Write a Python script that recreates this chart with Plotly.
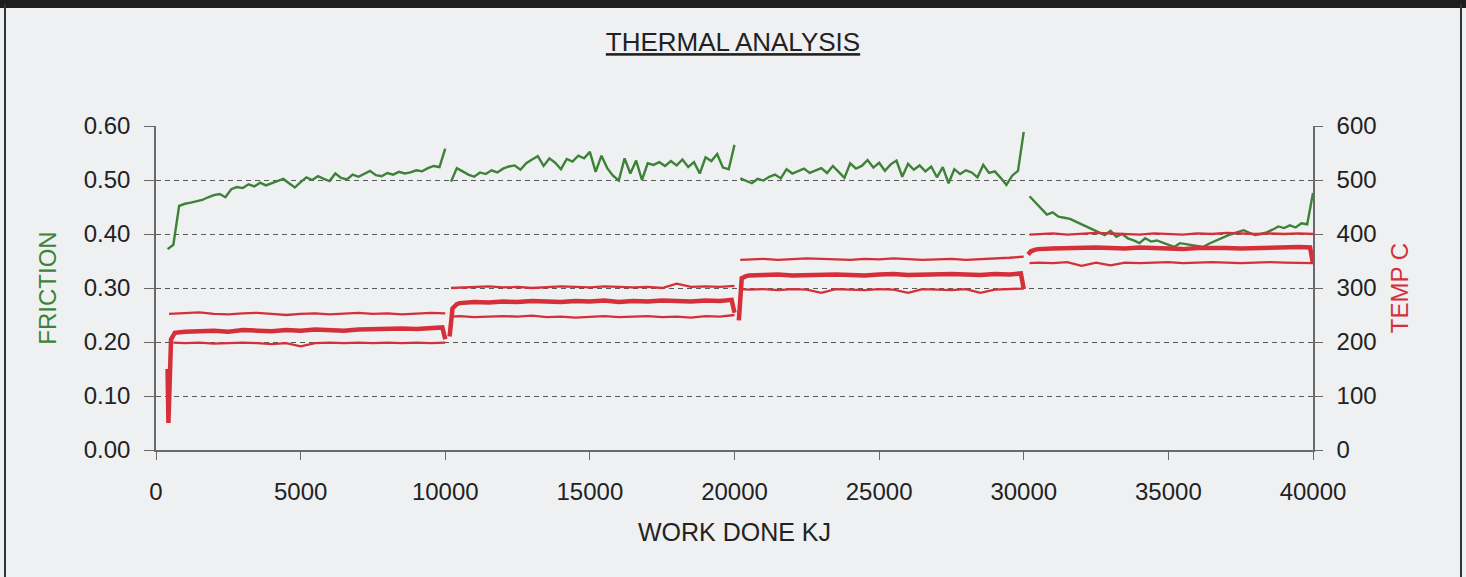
import plotly.graph_objects as go

# ---------------- data ----------------
# Friction (green), sampled every 200 kJ in each of four test blocks
FRICTION_X1 = list(range(400, 10001, 200))
FRICTION_1 = [0.372, 0.380, 0.452, 0.456, 0.458, 0.460, 0.463, 0.468, 0.472, 0.474,
              0.468, 0.483, 0.487, 0.485, 0.492, 0.488, 0.495, 0.490, 0.494, 0.498,
              0.502, 0.494, 0.486, 0.496, 0.505, 0.500, 0.507, 0.502, 0.498, 0.512,
              0.504, 0.501, 0.510, 0.506, 0.512, 0.517, 0.509, 0.507, 0.513, 0.510,
              0.515, 0.512, 0.514, 0.518, 0.516, 0.522, 0.526, 0.524, 0.558]
FRICTION_X2 = list(range(10200, 20001, 200))
FRICTION_2 = [0.497, 0.522, 0.516, 0.510, 0.506, 0.514, 0.511, 0.518, 0.514, 0.521,
              0.525, 0.527, 0.519, 0.531, 0.538, 0.544, 0.526, 0.540, 0.532, 0.520,
              0.539, 0.534, 0.545, 0.540, 0.552, 0.515, 0.545, 0.522, 0.508, 0.499,
              0.540, 0.512, 0.536, 0.500, 0.531, 0.528, 0.533, 0.526, 0.535, 0.527,
              0.538, 0.524, 0.533, 0.512, 0.542, 0.535, 0.548, 0.523, 0.520, 0.565]
FRICTION_X3 = list(range(20200, 30001, 200))
FRICTION_3 = [0.503, 0.498, 0.494, 0.502, 0.499, 0.506, 0.510, 0.503, 0.520, 0.512,
              0.516, 0.521, 0.513, 0.518, 0.522, 0.513, 0.526, 0.515, 0.504, 0.531,
              0.521, 0.526, 0.537, 0.523, 0.532, 0.517, 0.529, 0.536, 0.506, 0.530,
              0.519, 0.527, 0.516, 0.525, 0.505, 0.524, 0.494, 0.520, 0.511, 0.518,
              0.514, 0.505, 0.528, 0.513, 0.516, 0.504, 0.491, 0.508, 0.517, 0.589]
FRICTION_X4 = list(range(30200, 40001, 200))
FRICTION_4 = [0.470, 0.458, 0.447, 0.436, 0.440, 0.432, 0.430, 0.428, 0.423, 0.418,
              0.412, 0.408, 0.402, 0.398, 0.406, 0.395, 0.400, 0.392, 0.388, 0.383,
              0.392, 0.386, 0.388, 0.384, 0.380, 0.376, 0.383, 0.381, 0.380, 0.377,
              0.376, 0.382, 0.387, 0.392, 0.396, 0.400, 0.404, 0.407, 0.402, 0.398,
              0.400, 0.403, 0.408, 0.414, 0.411, 0.416, 0.412, 0.420, 0.418, 0.476]

# Temperatures (red): upper, mean (thick) and lower traces, every 500 kJ
G1 = list(range(1000, 9501, 500))
G2 = list(range(10500, 19501, 500))
G3 = list(range(20500, 29501, 500))
G4 = list(range(30500, 39501, 500))

UPPER_X1 = [450] + G1 + [10000]
UPPER_1 = [252, 253, 255, 252, 251, 253, 254, 252, 250, 252, 253, 251, 252, 254, 252, 253, 251, 252, 254, 253]
MID_X1 = [400, 430, 520, 650] + G1 + [9900, 10000]
MID_1 = [150, 50, 205, 217, 219, 220, 221, 219, 222, 221, 220, 222, 221, 223, 222, 221, 223, 224, 223, 225, 224, 226, 227, 205]
LOWER_X1 = [600] + G1 + [10000]
LOWER_1 = [199, 198, 199, 197, 198, 199, 198, 196, 198, 192, 198, 199, 198, 199, 198, 199, 198, 199, 198, 199]

UPPER_X2 = [10200] + G2 + [20000]
UPPER_2 = [300, 301, 302, 303, 301, 302, 300, 302, 303, 302, 301, 303, 302, 301, 302, 300, 308, 302, 303, 302, 304]
MID_X2 = [10150, 10250, 10400] + G2 + [19900, 20000]
MID_2 = [210, 262, 270, 272, 274, 273, 275, 274, 276, 275, 274, 276, 275, 277, 274, 276, 275, 277, 276, 275, 277, 276, 278, 254]
LOWER_X2 = [10200] + G2 + [20000]
LOWER_2 = [247, 248, 246, 247, 248, 247, 249, 246, 247, 245, 247, 248, 246, 247, 248, 246, 247, 245, 248, 247, 250]

UPPER_X3 = [20200] + G3 + [30000]
UPPER_3 = [352, 353, 354, 352, 353, 355, 354, 353, 352, 354, 353, 355, 354, 352, 353, 354, 352, 353, 354, 356, 358]
MID_X3 = [20150, 20250, 20400] + G3 + [29900, 30000]
MID_3 = [240, 318, 322, 323, 324, 325, 323, 324, 326, 325, 324, 323, 325, 326, 324, 325, 324, 326, 325, 324, 326, 325, 327, 298]
LOWER_X3 = [20200] + G3 + [30000]
LOWER_3 = [298, 297, 298, 296, 298, 297, 291, 298, 297, 296, 298, 297, 291, 298, 297, 296, 298, 291, 297, 298, 299]

UPPER_X4 = [30200] + G4 + [40000]
UPPER_4 = [399, 400, 401, 399, 400, 402, 401, 400, 399, 401, 400, 399, 401, 400, 402, 401, 400, 401, 400, 401, 400]
MID_X4 = [30150, 30250, 30400] + G4 + [39900, 40000]
MID_4 = [362, 368, 371, 372, 373, 374, 373, 375, 374, 373, 375, 374, 373, 372, 374, 375, 374, 373, 374, 375, 374, 376, 375, 345]
LOWER_X4 = [30200] + G4 + [40000]
LOWER_4 = [346, 347, 346, 348, 341, 347, 342, 347, 346, 347, 348, 346, 347, 348, 347, 346, 347, 348, 347, 346, 346]

X_TICKS = list(range(0, 40001, 5000))
TITLE = "THERMAL ANALYSIS"
X_TITLE = "WORK DONE KJ"
Y1_TITLE = "FRICTION"
Y2_TITLE = "TEMP C"

GREEN = "#3d8236"
RED = "#d5303a"
FONT = "Liberation Sans, Arial, sans-serif"
TEXT = "#222222"
AXIS = "#6a6a6a"


def join(blocks):
    xs, ys = [], []
    for bx, by in blocks:
        if xs:
            xs.append(None)
            ys.append(None)
        xs.extend(bx)
        ys.extend(by)
    return xs, ys


fig = go.Figure()

for name, blocks, width in [
    ("upper", [(UPPER_X1, UPPER_1), (UPPER_X2, UPPER_2), (UPPER_X3, UPPER_3), (UPPER_X4, UPPER_4)], 2.3),
    ("lower", [(LOWER_X1, LOWER_1), (LOWER_X2, LOWER_2), (LOWER_X3, LOWER_3), (LOWER_X4, LOWER_4)], 2.3),
    ("mean", [(MID_X1, MID_1), (MID_X2, MID_2), (MID_X3, MID_3), (MID_X4, MID_4)], 4.5),
]:
    xs, ys = join(blocks)
    fig.add_trace(go.Scatter(x=xs, y=ys, mode="lines", yaxis="y2", name=name,
                             line=dict(color=RED, width=width), connectgaps=False,
                             showlegend=False))

fx, fy = join([(FRICTION_X1, FRICTION_1), (FRICTION_X2, FRICTION_2),
               (FRICTION_X3, FRICTION_3), (FRICTION_X4, FRICTION_4)])
fig.add_trace(go.Scatter(x=fx, y=fy, mode="lines", name="friction",
                         line=dict(color=GREEN, width=2.4), connectgaps=False,
                         showlegend=False))

# page frame (paper coordinates relative to plot area)
L, R, T, B = 156, 1313, 126, 450
W, H = R - L, B - T


def px(x):
    return (x - L) / W


def py(y):
    return (B - y) / H


shapes = [
    dict(type="rect", xref="paper", yref="paper", x0=px(-5), x1=px(1475), y0=py(-2), y1=py(8),
         fillcolor="#1e1e1e", line=dict(width=0), layer="above"),
    dict(type="line", xref="paper", yref="paper", x0=px(5), x1=px(5), y0=py(4), y1=py(590),
         line=dict(color="#333333", width=2)),
    dict(type="line", xref="paper", yref="paper", x0=px(1461), x1=px(1461), y0=py(4), y1=py(590),
         line=dict(color="#333333", width=2)),
]

fig.update_layout(
    width=1466, height=577,
    margin=dict(l=L, r=1466 - R, t=T, b=577 - B),
    paper_bgcolor="#eef0f2",
    plot_bgcolor="rgba(0,0,0,0)",
    font=dict(family=FONT, color=TEXT, size=24),
    title=dict(text="<u>" + TITLE + "</u>", x=0.5, xanchor="center", y=1 - 42 / 577, yanchor="middle",
               font=dict(size=26, family=FONT, color=TEXT)),
    shapes=shapes,
    xaxis=dict(range=[0, 40000], tickvals=X_TICKS, ticktext=[str(v) for v in X_TICKS],
               showgrid=False, zeroline=False, showline=True, linecolor=AXIS, linewidth=1.5,
               ticks="outside", ticklen=8, tickcolor=AXIS, tickwidth=1, automargin=False,
               ticklabelstandoff=11,
               title=dict(text=X_TITLE, standoff=20, font=dict(size=25)),
               tickfont=dict(size=24)),
    yaxis=dict(range=[0, 0.6], dtick=0.1, tickformat=".2f",
               showgrid=True, gridcolor="#5a5a5a", gridwidth=1, griddash="5px,4px",
               zeroline=False, showline=True, linecolor=AXIS, linewidth=1.5,
               ticks="outside", ticklen=10, tickcolor=AXIS, automargin=False,
               ticklabelstandoff=9,
               title=dict(text=Y1_TITLE, standoff=20, font=dict(size=24, color=GREEN)),
               tickfont=dict(size=24)),
    yaxis2=dict(range=[0, 600], dtick=100, overlaying="y", side="right",
                showgrid=False, zeroline=False, showline=True, linecolor=AXIS, linewidth=1.5,
                ticks="outside", ticklen=8, tickcolor=AXIS, automargin=False,
                ticklabelstandoff=9,
                title=dict(text=Y2_TITLE, standoff=16, font=dict(size=24, color=RED)),
                tickfont=dict(size=24)),
)

fig.write_html("out.html", config={"displayModeBar": False},
               post_script="document.body.style.margin='0px';")
